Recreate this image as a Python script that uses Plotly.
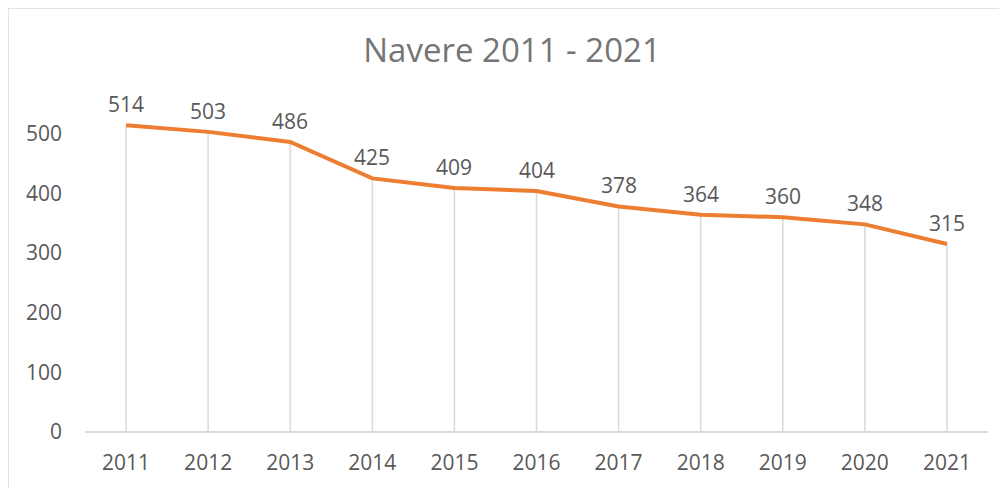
import plotly.graph_objects as go

years = ["2011", "2012", "2013", "2014", "2015", "2016", "2017", "2018", "2019", "2020", "2021"]
values = [514, 503, 486, 425, 409, 404, 378, 364, 360, 348, 315]
y_ticks = [0, 100, 200, 300, 400, 500]
title_text = "Navere 2011 - 2021"

# page is offset by the 8px body margin
W, H = 999, 480
ml, mr, mt, mb = 77, 19, 66, 56
pw, ph = W - ml - mr, H - mt - mb

FONT = "Open Sans"
TXT = "#595959"

fig = go.Figure()

# drop lines from axis to each point
dx, dy = [], []
for i, v in enumerate(values):
    dx += [i, i, None]
    dy += [0, v, None]
fig.add_trace(go.Scatter(x=dx, y=dy, mode="lines",
                         line=dict(color="#d9d9d9", width=1.5),
                         hoverinfo="skip", showlegend=False))

fig.add_trace(go.Scatter(
    x=list(range(len(years))), y=values, mode="lines",
    line=dict(color="#ED7D31", width=4), showlegend=False,
))

for i, v in enumerate(values):
    fig.add_annotation(x=i, y=v, text=str(v), showarrow=False,
                       yshift=21, yanchor="middle",
                       font=dict(family=FONT, size=21, color=TXT))

def px_x(p):
    return (p - ml) / pw

def px_y(p):
    return 1 - (p - mt) / ph

fig.add_shape(type="rect", xref="paper", yref="paper",
              x0=px_x(0), x1=px_x(1020), y0=px_y(520), y1=px_y(0),
              line=dict(color="#d9d9d9", width=1.5), layer="below")

fig.update_layout(
    width=W, height=H,
    margin=dict(l=ml, r=mr, t=mt, b=mb),
    paper_bgcolor="white", plot_bgcolor="white",
    title=dict(text=title_text, x=(512 - 8) / W, xref="container", xanchor="center",
               y=1 - 42 / H, yanchor="middle",
               font=dict(family=FONT, size=33, color="#757575")),
    xaxis=dict(range=[-0.5, len(years) - 0.5], tickvals=list(range(len(years))),
               ticktext=years, showgrid=False, zeroline=False,
               showline=False, ticks="", ticklabelstandoff=16,
               tickfont=dict(family=FONT, size=21, color=TXT)),
    yaxis=dict(range=[0, 600], tickvals=y_ticks, showgrid=False,
               zeroline=True, zerolinecolor="#d9d9d9", zerolinewidth=1.5,
               showline=False, ticks="", ticklabelstandoff=22,
               tickfont=dict(family=FONT, size=21, color=TXT)),
)

fig.write_html("out.html")
